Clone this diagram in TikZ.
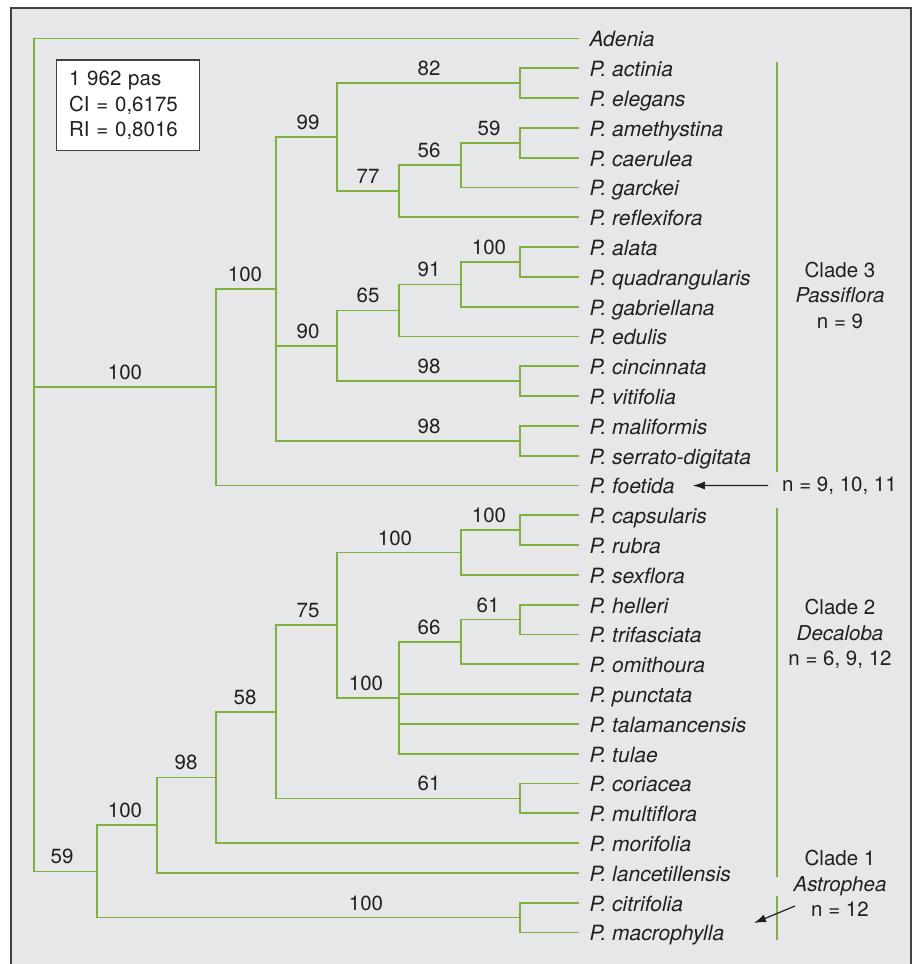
\documentclass[tikz,border=0pt]{standalone}
\usepackage{fontspec}
\setmainfont{TeX Gyre Heros}
\usetikzlibrary{arrows.meta}
\definecolor{branchgreen}{RGB}{128,176,62}
\definecolor{panelgray}{RGB}{230,231,232}
\definecolor{inkgray}{RGB}{35,31,32}
\begin{document}
\begin{tikzpicture}[x=1pt, y=-1pt,
		every node/.style = {text=inkgray, font=\fontsize{20.5}{25.5}\selectfont},
		branch/.style = {draw=branchgreen, line width=1.7pt},
		cladebar/.style = {draw=branchgreen, line width=1.3pt},
		leaf/.style = {anchor=west, inner xsep=10pt, inner ysep=0pt, text height=16.8pt, text depth=0pt, font=\fontsize{21}{25.5}\selectfont\itshape},
		bs/.style = {anchor=base, inner sep=0pt},
		clade/.style = {align=center},
		arr/.style = {draw=inkgray, line width=1.2pt, -{Latex[length=12pt, width=8pt]}}]
		\useasboundingbox (0,0) rectangle (916,964);
		\draw[fill=panelgray, draw=inkgray!85, line width=1.5pt] (11,8) rectangle (911,968);
		\node[draw=inkgray!85, fill=white, line width=1.3pt, align=left, inner xsep=12.3pt, text width=118pt, minimum height=90.7pt] (stats) at (128,105.3) {1 962 pas\\CI = 0,6175\\RI = 0,8016};
		\foreach \sp [count=\i from 0] in {Adenia, P. actinia, P. elegans, P. amethystina, P. caerulea, P. garckei, P. reflexifora, P. alata, P. quadrangularis, P. gabriellana, P. edulis, P. cincinnata, P. vitifolia, P. maliformis, P. serrato-digitata, P. foetida, P. capsularis, P. rubra, P. sexflora, P. helleri, P. trifasciata, P. omithoura, P. punctata, P. talamancensis, P. tulae, P. coriacea, P. multiflora, P. morifolia, P. lancetillensis, P. citrifolia, P. macrophylla}{
			\node[leaf] (leaf\i) at (579.3, {38.5+29.8*\i}) {\sp};
		}
		\coordinate (root) at (34,400);
		\coordinate (passf) at (216,387.25);
		\coordinate (pass) at (276,289);
		\coordinate (n99) at (337,137.2);
		\coordinate (n82) at (520,83.2);
		\coordinate (n77) at (399,191.2);
		\coordinate (n56) at (461,165.15);
		\coordinate (n59t) at (520,142.8);
		\coordinate (n90) at (337,345.8);
		\coordinate (n65) at (399,310.4);
		\coordinate (n91) at (461,284.35);
		\coordinate (n100t) at (520,262);
		\coordinate (n98t) at (520,381.2);
		\coordinate (n98m) at (520,440.8);
		\coordinate (n59r) at (96.7,871.4);
		\coordinate (astdec) at (157,825.2);
		\coordinate (n98d) at (216,777.45);
		\coordinate (n58) at (276,711.8);
		\coordinate (n75) at (337,625.2);
		\coordinate (n100u) at (461,552.55);
		\coordinate (n100v) at (520,530.2);
		\coordinate (n100w) at (399,697.8);
		\coordinate (n66) at (461,641.95);
		\coordinate (n61u) at (520,619.6);
		\coordinate (n61d) at (520,798.4);
		\coordinate (astro) at (520,917.6);
		\foreach \a/\b in {root/leaf0, root/passf, root/n59r, passf/pass, passf/leaf15, pass/n99, pass/n90, pass/n98m, n99/n82, n99/n77, n82/leaf1, n82/leaf2, n77/n56, n77/leaf6, n56/n59t, n56/leaf5, n59t/leaf3, n59t/leaf4, n90/n65, n90/n98t, n65/n91, n65/leaf10, n91/n100t, n91/leaf9, n100t/leaf7, n100t/leaf8, n98t/leaf11, n98t/leaf12, n98m/leaf13, n98m/leaf14, n59r/astdec, n59r/astro, astdec/n98d, astdec/leaf28, n98d/n58, n98d/leaf27, n58/n75, n58/n61d, n75/n100u, n75/n100w, n100u/n100v, n100u/leaf18, n100v/leaf16, n100v/leaf17, n100w/n66, n100w/leaf22, n100w/leaf23, n100w/leaf24, n66/n61u, n66/leaf21, n61u/leaf19, n61u/leaf20, n61d/leaf25, n61d/leaf26, astro/leaf29, astro/leaf30}{
			\draw[branch] (\a) |- (\b);
		}
		\foreach \v/\x/\y [count=\k] in {100/125/387.25, 100/245/289, 99/308/137.2, 82/429/83.2, 77/368/191.2, 56/429/165.15, 59/489/142.8, 90/308/345.8, 65/368/310.4, 91/429/284.35, 100/489/262, 98/429/381.2, 98/429/440.8, 59/62/871.4, 100/125/825.2, 98/186/777.45, 58/245/711.8, 75/308/625.2, 100/395/552.55, 100/489/530.2, 100/366/697.8, 66/429/641.95, 61/488/619.6, 61/429/798.4, 100/366/917.6}{
			\node[bs] (bs\k) at (\x, {\y-7.5}) {\v};
		}
		\draw[cladebar] (777,62) -- (777,472);
		\draw[cladebar] (777,508) -- (777,877);
		\draw[cladebar] (777,896) -- (777,940);
		\node[clade] (clade3) at (840,295) {Clade 3\\\textit{Passiflora}\\n = 9};
		\node[clade] (clade2) at (840,634) {Clade 2\\\textit{Decaloba}\\n = 6, 9, 12};
		\node[clade] (clade1) at (840,883.5) {Clade 1\\\textit{Astrophea}\\n = 12};
		\node[anchor=west, inner xsep=14pt] (nfoe) at (768,485.5) {n = 9, 10, 11};
		\draw[arr, shorten >=8pt] (nfoe.west) -- (leaf15.east);
		\coordinate (astart) at (795,906);
		\coordinate (aend) at (754,923);
		\draw[arr] (astart) -- (aend);
	\end{tikzpicture}
\end{document}
